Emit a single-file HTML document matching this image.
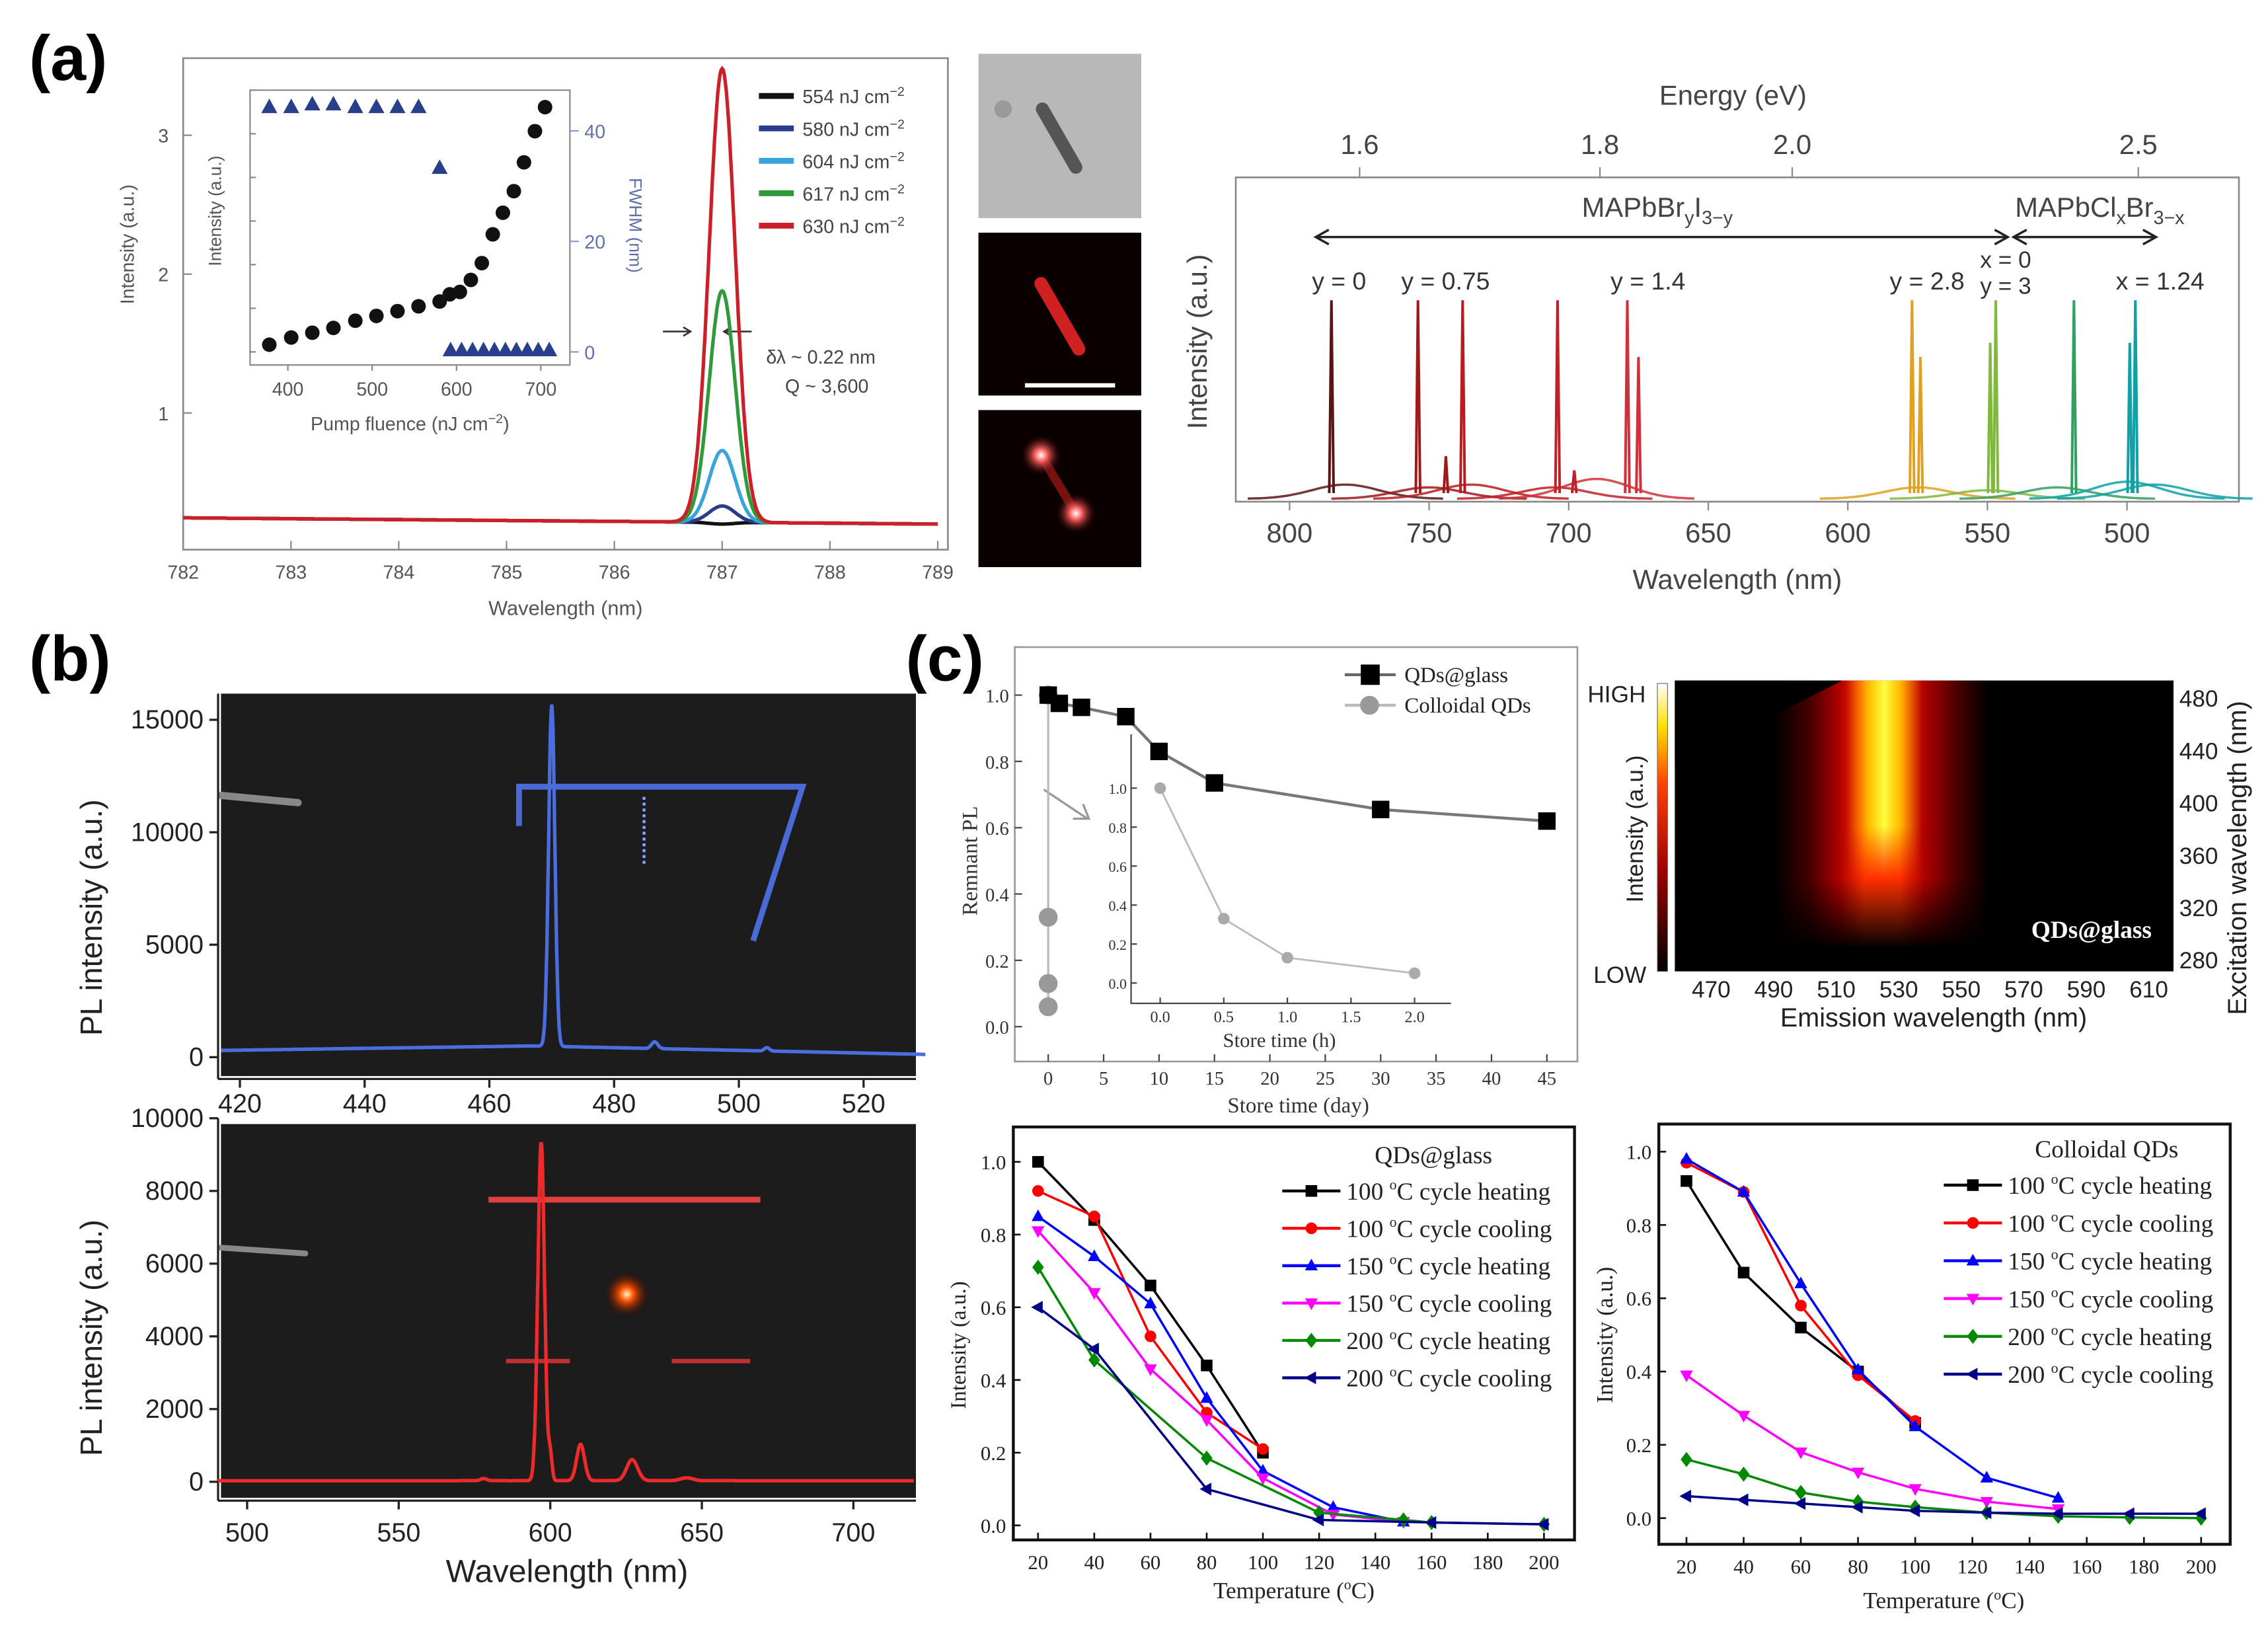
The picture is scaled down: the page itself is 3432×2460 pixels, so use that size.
<!DOCTYPE html>
<html><head><meta charset="utf-8"><style>
html,body{margin:0;padding:0;background:#fff}
svg{display:block}
text{font-family:"Liberation Sans",sans-serif}
.serif{font-family:"Liberation Serif",serif}
</style></head><body>
<svg id="fig" xmlns="http://www.w3.org/2000/svg" width="3432" height="2460" viewBox="0 0 1560 1118.18">
<defs>
<linearGradient id="hmRed" x1="0" x2="1" y1="0" y2="0">
<stop offset="0" stop-color="#000"/><stop offset="0.2" stop-color="#000"/><stop offset="0.27" stop-color="#400"/><stop offset="0.33" stop-color="#b00000"/><stop offset="0.38" stop-color="#ff3000"/><stop offset="0.45" stop-color="#ff3000"/><stop offset="0.5" stop-color="#b00000"/><stop offset="0.57" stop-color="#400"/><stop offset="0.63" stop-color="#000"/><stop offset="1" stop-color="#000"/>
</linearGradient>
<linearGradient id="hmYel" x1="0" x2="1" y1="0" y2="0">
<stop offset="0" stop-color="#ffa000" stop-opacity="0"/><stop offset="0.3" stop-color="#ffd000" stop-opacity="0.9"/><stop offset="0.5" stop-color="#ffff40"/><stop offset="0.7" stop-color="#ffd000" stop-opacity="0.9"/><stop offset="1" stop-color="#ffa000" stop-opacity="0"/>
</linearGradient>
<linearGradient id="fadeRed" x1="0" x2="0" y1="0" y2="1">
<stop offset="0" stop-color="#fff"/><stop offset="0.68" stop-color="#fff"/><stop offset="0.92" stop-color="#000"/>
</linearGradient>
<linearGradient id="fadeYel" x1="0" x2="0" y1="0" y2="1">
<stop offset="0" stop-color="#fff"/><stop offset="0.5" stop-color="#fff"/><stop offset="0.68" stop-color="#000"/>
</linearGradient>
<mask id="mRed" maskContentUnits="userSpaceOnUse"><rect x="1152" y="468" width="343" height="200" fill="url(#fadeRed)"/></mask>
<mask id="mYel" maskContentUnits="userSpaceOnUse"><rect x="1152" y="468" width="343" height="200" fill="url(#fadeYel)"/></mask>
<linearGradient id="cbar" x1="0" x2="0" y1="1" y2="0">
<stop offset="0" stop-color="#000"/><stop offset="0.35" stop-color="#a00000"/><stop offset="0.65" stop-color="#ff4000"/><stop offset="0.85" stop-color="#ffe000"/><stop offset="1" stop-color="#fff"/>
</linearGradient>
<radialGradient id="spot" cx="0.5" cy="0.5" r="0.5"><stop offset="0" stop-color="#fff"/><stop offset="0.3" stop-color="#ff6060"/><stop offset="1" stop-color="#300" stop-opacity="0"/></radialGradient>
<radialGradient id="spot2" cx="0.5" cy="0.5" r="0.5"><stop offset="0" stop-color="#fff8c0"/><stop offset="0.3" stop-color="#ff5000"/><stop offset="1" stop-color="#300" stop-opacity="0"/></radialGradient>
</defs>

<text x="20" y="55" font-size="44" font-weight="bold">(a)</text>
<text x="20" y="468" font-size="44" font-weight="bold">(b)</text>
<text x="623" y="468" font-size="44" font-weight="bold">(c)</text>

<g id="aL">
<rect x="126" y="40" width="526" height="338" fill="none" stroke="#888" stroke-width="1.2"/>
<text x="92" y="168" font-size="13" fill="#555" transform="rotate(-90 92 168)" text-anchor="middle">Intensity (a.u.)</text>
<text x="389" y="423" font-size="14" fill="#555" text-anchor="middle">Wavelength (nm)</text>
<rect x="172" y="62" width="220" height="189" fill="#fff" stroke="#888" stroke-width="1"/>
<text x="152" y="145" font-size="12" fill="#555" transform="rotate(-90 152 145)" text-anchor="middle">Intensity (a.u.)</text>
<text x="433" y="155" font-size="12" fill="#6070a8" transform="rotate(90 433 155)" text-anchor="middle">FWHM (nm)</text>
<text x="282" y="296" font-size="13" fill="#555" text-anchor="middle">Pump fluence (nJ cm<tspan dy="-5" font-size="9">−2</tspan><tspan dy="5">)</tspan></text>
<text x="527" y="250" font-size="13" fill="#444">δλ ~ 0.22 nm</text>
<text x="540" y="270" font-size="13" fill="#444">Q ~ 3,600</text>
<path d="M456 228 L474 228 M470 225 L475 228 L470 231 M517 228 L499 228 M503 225 L498 228 L503 231" stroke="#333" stroke-width="1.2" fill="none"/>
</g>

<g>
<rect x="673" y="37" width="112" height="113" fill="#b8b8b8"/>
<circle cx="690" cy="75" r="6" fill="#9a9a9a"/>
<line x1="717" y1="75" x2="740" y2="115" stroke="#555" stroke-width="9" stroke-linecap="round"/>
<rect x="673" y="160" width="112" height="112" fill="#0a0000"/>
<line x1="716" y1="195" x2="742" y2="240" stroke="#d02020" stroke-width="9" stroke-linecap="round"/>
<line x1="705" y1="265" x2="767" y2="265" stroke="#fff" stroke-width="3"/>
<rect x="673" y="282" width="112" height="108" fill="#0a0000"/>
<line x1="716" y1="313" x2="740" y2="353" stroke="#7a1010" stroke-width="6"/>
<circle cx="716" cy="313" r="14" fill="url(#spot)"/>
<circle cx="740" cy="353" r="14" fill="url(#spot)"/>
</g>

<g>
<rect x="850" y="122" width="690" height="223" fill="none" stroke="#888" stroke-width="1.2"/>
<text x="1192" y="72" font-size="19" fill="#444" text-anchor="middle">Energy (eV)</text>
<text x="1195" y="405" font-size="19" fill="#444" text-anchor="middle">Wavelength (nm)</text>
<text x="830" y="235" font-size="19" fill="#444" transform="rotate(-90 830 235)" text-anchor="middle">Intensity (a.u.)</text>
<text x="1088" y="149" font-size="19" fill="#444">MAPbBr<tspan dy="5" font-size="13">y</tspan><tspan dy="-5">I</tspan><tspan dy="5" font-size="13">3−y</tspan></text>
<text x="1386" y="149" font-size="19" fill="#444">MAPbCl<tspan dy="5" font-size="13">x</tspan><tspan dy="-5">Br</tspan><tspan dy="5" font-size="13">3−x</tspan></text>
<path d="M906 163 L1380 163 M914 158 L905 163 L914 168 M1372 158 L1381 163 L1372 168 M1386 163 L1482 163 M1394 158 L1385 163 L1394 168 M1474 158 L1483 163 L1474 168" stroke="#222" stroke-width="1.6" fill="none"/>
</g>

<g>
<rect x="152" y="477" width="478" height="263" fill="#1c1c1c"/>
<line x1="152" y1="547" x2="205" y2="552" stroke="#888" stroke-width="5" stroke-linecap="round"/>
<path d="M357 568 L357 541 L552 541 L518 647" stroke="#4a6ad8" stroke-width="4" fill="none"/>
<line x1="443" y1="548" x2="443" y2="596" stroke="#80a8ff" stroke-width="2" stroke-dasharray="2 2"/>
<text x="48" y="609" font-size="21" fill="#222" transform="rotate(-90 70 609)" text-anchor="middle">PL intensity (a.u.)</text>
<line x1="150" y1="477" x2="150" y2="742" stroke="#222" stroke-width="1.5"/>
<line x1="150" y1="742" x2="630" y2="742" stroke="#222" stroke-width="1.5"/>
</g>
<g>
<rect x="152" y="773" width="478" height="257" fill="#1c1c1c"/>
<line x1="152" y1="858" x2="210" y2="862" stroke="#888" stroke-width="4" stroke-linecap="round"/>
<path d="M336 825 L523 825" stroke="#e04040" stroke-width="4" fill="none"/>
<path d="M348 936 L392 936 M462 936 L516 936" stroke="#c03030" stroke-width="3"/>
<circle cx="431" cy="890" r="16" fill="url(#spot2)"/>
<text x="48" y="898" font-size="21" fill="#222" transform="rotate(-90 70 898)" text-anchor="middle">PL intensity (a.u.)</text>
<text x="390" y="1088" font-size="22" fill="#222" text-anchor="middle">Wavelength (nm)</text>
<line x1="150" y1="769" x2="150" y2="1032" stroke="#222" stroke-width="1.5"/>
<line x1="150" y1="1032" x2="630" y2="1032" stroke="#222" stroke-width="1.5"/>
</g>

<g class="serif">
<rect x="698" y="445" width="387" height="285" fill="none" stroke="#999" stroke-width="1.2"/>
<text x="672" y="592" class="serif" font-size="15" fill="#333" transform="rotate(-90 672 592)" text-anchor="middle">Remnant PL</text>
<text x="893" y="765" class="serif" font-size="15" fill="#333" text-anchor="middle">Store time (day)</text>
<text x="880" y="720" class="serif" font-size="14" fill="#333" text-anchor="middle">Store time (h)</text>
<path d="M718 543 L748 563 M738 563 L749 563 L745 553" stroke="#999" stroke-width="1.5" fill="none"/>
<line x1="925" y1="464" x2="960" y2="464" stroke="#666" stroke-width="2"/>
<rect x="936" y="457" width="13" height="14" fill="#000"/>
<text x="966" y="469" class="serif" font-size="15" fill="#222">QDs@glass</text>
<line x1="925" y1="485" x2="960" y2="485" stroke="#bbb" stroke-width="2"/>
<circle cx="942" cy="485" r="6.5" fill="#999"/>
<text x="966" y="490" class="serif" font-size="15" fill="#222">Colloidal QDs</text>
</g>

<g>
<rect x="1152" y="468" width="343" height="200" fill="#000"/>
<rect x="1152" y="468" width="343" height="200" fill="url(#hmRed)" mask="url(#mRed)"/>
<rect x="1270" y="468" width="52" height="200" fill="url(#hmYel)" mask="url(#mYel)"/>
<polygon points="1152,468 1267,468 1152,527" fill="#000"/>
<rect x="1140" y="470" width="7" height="198" fill="url(#cbar)" stroke="#666" stroke-width="0.5"/>
<text x="1092" y="483" font-size="16" fill="#222">HIGH</text>
<text x="1096" y="676" font-size="16" fill="#222">LOW</text>
<text x="1130" y="570" font-size="16" fill="#222" transform="rotate(-90 1130 570)" text-anchor="middle">Intensity (a.u.)</text>
<text x="1480" y="645" class="serif" font-size="17" font-weight="bold" fill="#fff" text-anchor="end">QDs@glass</text>
<text x="1330" y="706" font-size="18" fill="#222" text-anchor="middle">Emission wavelength (nm)</text>
<text x="1545" y="590" font-size="18" fill="#222" transform="rotate(-90 1545 590)" text-anchor="middle">Excitation wavelength (nm)</text>
</g>

<g class="serif">
<rect x="697" y="775" width="386" height="284" fill="none" stroke="#111" stroke-width="2"/>
<text x="664" y="925" class="serif" font-size="15" fill="#222" transform="rotate(-90 664 925)" text-anchor="middle">Intensity (a.u.)</text>
<text x="890" y="1099" class="serif" font-size="16" fill="#222" text-anchor="middle">Temperature (<tspan dy="-6" font-size="10">o</tspan><tspan dy="6">C)</tspan></text>
<text x="986" y="800" class="serif" font-size="17" fill="#222" text-anchor="middle">QDs@glass</text>
</g>
<g class="serif">
<rect x="1141" y="773" width="393" height="289" fill="none" stroke="#111" stroke-width="2"/>
<text x="1109" y="918" class="serif" font-size="16" fill="#222" transform="rotate(-90 1109 918)" text-anchor="middle">Intensity (a.u.)</text>
<text x="1337" y="1106" class="serif" font-size="16" fill="#222" text-anchor="middle">Temperature (<tspan dy="-6" font-size="10">o</tspan><tspan dy="6">C)</tspan></text>
<text x="1449" y="796" class="serif" font-size="17" fill="#222" text-anchor="middle">Colloidal QDs</text>
</g>
</svg>

<script>
// ---------- data ----------
const aFluences = [554, 580, 604, 617, 630];
const aPeakHeights = [0.2, 0.33, 0.73, 1.88, 3.48];
const aPeakCenter = 787.0;
const aBaseStart = 0.245, aBaseEnd = 0.2;
const aXTicks = [782, 783, 784, 785, 786, 787, 788, 789];
const aYTicks = [1, 2, 3];
const insetPump = [378, 404, 429, 454, 480, 505, 530, 555, 580, 592, 604, 617, 630, 643, 655, 668, 680, 693, 705];
const insetIntensity = [0.03, 0.06, 0.08, 0.1, 0.13, 0.15, 0.17, 0.19, 0.21, 0.24, 0.25, 0.3, 0.37, 0.49, 0.58, 0.67, 0.79, 0.92, 1.02];
const fwhmPump = [378, 404, 429, 454, 480, 505, 530, 555, 580, 593, 606, 619, 632, 645, 658, 671, 684, 697, 710];
const fwhmValues = [44, 44, 44.5, 44.5, 44, 44, 44, 44, 33, 0, 0, 0, 0, 0, 0, 0, 0, 0, 0];
const insetXTicks = [400, 500, 600, 700];
const insetFwhmTicks = [0, 20, 40];
const rPeakWl = [785, 754, 744, 738, 704, 698, 679, 675, 577, 574, 547, 549, 519, 497, 499];
const rPeakH = [0.7, 0.7, 0.15, 0.7, 0.7, 0.1, 0.7, 0.5, 0.7, 0.5, 0.7, 0.55, 0.7, 0.7, 0.55];
const rPeakColor = ['#5a1414', '#a01818', '#a01818', '#b81c20', '#c02028', '#c02028', '#d0303a', '#d0303a', '#e0a020', '#e0a020', '#80b840', '#80b840', '#30a060', '#10a0a8', '#10a0a8'];
const rHumpWl = [780, 750, 735, 705, 690, 575, 550, 525, 500, 490];
const rHumpH = [0.05, 0.04, 0.05, 0.04, 0.07, 0.04, 0.03, 0.04, 0.06, 0.05];
const rHumpColor = ['#5a1414', '#a01818', '#b81c20', '#c02028', '#d0303a', '#e0a020', '#80b840', '#30a060', '#10a0a8', '#10a0a8'];
const rPeakLabels = ['y = 0', 'y = 0.75', 'y = 1.4', 'y = 2.8', 'x = 1.24'];
const rPeakLabelWl = [792, 760, 685, 585, 504];
const rXTicks = [800, 750, 700, 650, 600, 550, 500];
const rETicks = [1.6, 1.8, 2.0, 2.5];
const bBluePeaks = [[470, 15200, 0.5], [486.5, 300, 0.5], [504.5, 150, 0.4]];
const bBlueBase = [300, 500, 150];
const bBlueX = [420, 440, 460, 480, 500, 520];
const bBlueY = [0, 5000, 10000, 15000];
const bRedPeaks = [[597, 9300, 1.1], [600, 700, 0.6], [610, 1000, 1.3], [627, 580, 1.8], [578, 60, 1], [645, 80, 2]];
const bRedX = [500, 550, 600, 650, 700];
const bRedY = [0, 2000, 4000, 6000, 8000, 10000];
const storeDays = [0, 1, 3, 7, 10, 15, 30, 45];
const storeGlass = [1.0, 0.975, 0.963, 0.935, 0.83, 0.735, 0.655, 0.62];
const colloidalDays = [0, 0, 0, 0];
const colloidalPL = [1.0, 0.33, 0.13, 0.06];
const insetHours = [0, 0.5, 1, 2];
const insetPL = [1.0, 0.33, 0.13, 0.05];
const storeXTicks = [0, 5, 10, 15, 20, 25, 30, 35, 40, 45];
const storeYTicks = [0.0, 0.2, 0.4, 0.6, 0.8, 1.0];
const insetHTicks = [0.0, 0.5, 1.0, 1.5, 2.0];
const insetPLTicks = [0.0, 0.2, 0.4, 0.6, 0.8, 1.0];
const hmXTicks = [470, 490, 510, 530, 550, 570, 590, 610];
const hmYTicks = [280, 320, 360, 400, 440, 480];
const seriesNames = ['100 °C cycle heating', '100 °C cycle cooling', '150 °C cycle heating', '150 °C cycle cooling', '200 °C cycle heating', '200 °C cycle cooling'];
const seriesColors = ['#000', '#f00', '#00f', '#f0f', '#080', '#008'];
const seriesMarkers = ['square', 'circle', 'up', 'down', 'diamond', 'left'];
const glassT = [[20, 40, 60, 80, 100], [20, 40, 60, 80, 100], [20, 40, 60, 80, 100, 125, 150], [20, 40, 60, 80, 100, 125, 150], [20, 40, 80, 120, 150, 160, 200], [20, 40, 80, 120, 160, 200]];
const glassV = [[1.0, 0.84, 0.66, 0.44, 0.2], [0.92, 0.85, 0.52, 0.31, 0.21], [0.85, 0.74, 0.61, 0.35, 0.15, 0.05, 0.01], [0.81, 0.64, 0.43, 0.29, 0.13, 0.03, 0.01], [0.71, 0.455, 0.185, 0.035, 0.015, 0.008, 0.003], [0.6, 0.485, 0.1, 0.015, 0.008, 0.003]];
const collT = [[20, 40, 60, 80, 100], [20, 40, 60, 80, 100], [20, 40, 60, 80, 100, 125, 150], [20, 40, 60, 80, 100, 125, 150], [20, 40, 60, 80, 100, 125, 150, 175, 200], [20, 40, 60, 80, 100, 125, 150, 175, 200]];
const collV = [[0.92, 0.67, 0.52, 0.4, 0.26], [0.97, 0.89, 0.58, 0.39, 0.265], [0.98, 0.89, 0.64, 0.405, 0.25, 0.11, 0.055], [0.39, 0.28, 0.18, 0.125, 0.08, 0.045, 0.025], [0.16, 0.12, 0.07, 0.045, 0.03, 0.015, 0.005, 0.002, 0.0], [0.06, 0.05, 0.04, 0.03, 0.02, 0.015, 0.012, 0.012, 0.012]];
const tTicks = [20, 40, 60, 80, 100, 120, 140, 160, 180, 200];
const iTicks = [0.0, 0.2, 0.4, 0.6, 0.8, 1.0];

// ---------- helpers ----------
const NS = 'http://www.w3.org/2000/svg';
const svg = document.getElementById('fig');
function mk(tag, attrs, parent) { const e = document.createElementNS(NS, tag); for (const k in attrs) e.setAttribute(k, attrs[k]); (parent || svg).appendChild(e); return e; }
function lin(d0, d1, r0, r1) { return v => r0 + (v - d0) * (r1 - r0) / (d1 - d0); }
function gauss(x, c, h, s) { return h * Math.exp(-0.5 * ((x - c) / s) * ((x - c) / s)); }
function label(x, y, s, size, anchor, fill, cls) {
  const e = mk('text', { x: x, y: y, 'font-size': size, 'text-anchor': anchor, fill: fill || '#333' });
  if (cls) e.setAttribute('class', cls);
  e.textContent = s;
  return e;
}
function tick(x1, y1, x2, y2, col, w) {
  return mk('line', { x1: x1, y1: y1, x2: x2, y2: y2, stroke: col || '#444', 'stroke-width': w || 1 });
}
function marker(type, x, y, r, col) {
  let e;
  if (type === 'square') e = mk('rect', { x: x - r, y: y - r, width: 2 * r, height: 2 * r, fill: col });
  else if (type === 'circle') e = mk('circle', { cx: x, cy: y, r: r, fill: col });
  else {
    let p;
    if (type === 'up') p = [[x, y - r * 1.2], [x + r * 1.1, y + r * 0.8], [x - r * 1.1, y + r * 0.8]];
    else if (type === 'down') p = [[x, y + r * 1.2], [x + r * 1.1, y - r * 0.8], [x - r * 1.1, y - r * 0.8]];
    else if (type === 'diamond') p = [[x, y - r * 1.3], [x + r, y], [x, y + r * 1.3], [x - r, y]];
    else p = [[x - r * 1.2, y], [x + r * 0.8, y - r * 1.1], [x + r * 0.8, y + r * 1.1]];
    e = mk('polygon', { points: p.map(q => q.join(',')).join(' '), fill: col });
  }
  return e;
}

// ---------- (a) left ----------
const sxA = lin(782, 789, 126, 645), syA = lin(1, 3, 284, 93);
aXTicks.forEach(v => {
  const t = tick(sxA(v), 378, sxA(v), 372, '#888');
  
  const l = label(sxA(v), 398, String(v), 13, 'middle', '#555');
  
});
aYTicks.forEach(v => {
  const t = tick(126, syA(v), 132, syA(v), '#888');
  
  const l = label(116, syA(v) + 5, String(v), 13, 'end', '#555');
  
});
const aColors = ['#111', '#2c3c8c', '#38a4dc', '#2e9a3a', '#cc1f2a'];
aFluences.forEach((f, i) => {
  let d = '';
  for (let w = 782; w <= 789.001; w += 0.01) {
    const base = aBaseStart + (aBaseEnd - aBaseStart) * (w - 782) / 7;
    const v = base + gauss(w, aPeakCenter, aPeakHeights[i] - base, 0.12);
    d += (d ? 'L' : 'M') + sxA(w).toFixed(1) + ' ' + syA(v).toFixed(1);
  }
  const p = mk('path', { d: d, fill: 'none', stroke: aColors[i], 'stroke-width': 2.4 });
  
  
  const ly = 66 + i * 22.3;
  const ll = tick(522, ly, 546, ly, aColors[i], 4);
  
  const lt = mk('text', { x: 552, y: ly + 5, 'font-size': 13, fill: '#444' });
  
  lt.innerHTML = f + ' nJ cm<tspan dy="-5" font-size="9">−2</tspan>';
});
const sxI = lin(400, 700, 198, 372), syI = lin(0, 1, 242, 77), syF = lin(0, 40, 242, 90);
insetXTicks.forEach(v => {
  const t = tick(sxI(v), 251, sxI(v), 255, '#888');
  
  const l = label(sxI(v), 272, String(v), 13, 'middle', '#555');
  
});
insetFwhmTicks.forEach(v => {
  const t = tick(392, syF(v), 398, syF(v), '#8898c8');
  
  const l = label(402, syF(v) + 5, String(v), 13, 'start', '#6070a8');
  
});
for (let k = 0; k < 7; k++) {
  const t = tick(172, 242 - k * 30, 176, 242 - k * 30, '#888');
  
}
fwhmPump.forEach((p, i) => {
  const m = marker('up', sxI(p), syF(fwhmValues[i]) - 1, 5, '#2a3f8c');
  
  
});
insetPump.forEach((p, i) => {
  const m = marker('circle', sxI(p), syI(insetIntensity[i]), 5, '#111');
  
  
});

// ---------- (a) right ----------
const sxR = lin(800, 500, 887, 1463), syR = lin(0, 1, 343, 148);
rXTicks.forEach(v => {
  const t = tick(sxR(v), 345, sxR(v), 351, '#888');
  
  const l = label(sxR(v), 373, String(v), 19, 'middle', '#444');
  
});
rETicks.forEach(e => {
  const x = sxR(1239.84 / e);
  const t = tick(x, 122, x, 115, '#888');
  
  const l = label(x, 106, e.toFixed(1), 19, 'middle', '#444');
  
});
rHumpWl.forEach((w, i) => {
  let d = '';
  for (let x = w - 35; x <= w + 35; x += 1) d += (d ? 'L' : 'M') + sxR(x).toFixed(1) + ' ' + syR(gauss(x, w, rHumpH[i], 12)).toFixed(1);
  const p = mk('path', { d: d, fill: 'none', stroke: rHumpColor[i], 'stroke-width': 1.6, opacity: 0.85 });
  
  
});
rPeakWl.forEach((w, i) => {
  const x = sxR(w);
  const p = mk('path', { d: 'M' + (x - 1.5) + ' ' + syR(0.02) + ' L' + x + ' ' + syR(rPeakH[i]) + ' L' + (x + 1.5) + ' ' + syR(0.02), fill: 'none', stroke: rPeakColor[i], 'stroke-width': 1.8 });
  
  
});
rPeakLabels.forEach((s, i) => {
  const l = label(sxR(rPeakLabelWl[i]), 199, s, 17, 'start', '#333');
  
});
const lx0 = label(1362, 184, 'x = 0', 16, 'start', '#333');

const ly3 = label(1362, 202, 'y = 3', 16, 'start', '#333');


// ---------- (b) ----------
const sxB1 = lin(420, 520, 165, 594), syB1 = lin(0, 15000, 727, 495);
let db = '';
for (let w = 417; w <= 530; w += 0.1) {
  let v = bBlueBase[0] + (bBlueBase[1] - bBlueBase[0]) * Math.min(1, (w - 417) / 50) - (w > 467 ? (w - 467) * 6 : 0);
  bBluePeaks.forEach(p => { v += gauss(w, p[0], p[1], p[2]); });
  db += (db ? 'L' : 'M') + sxB1(w).toFixed(1) + ' ' + syB1(Math.max(v, 60)).toFixed(1);
}
const pb = mk('path', { d: db, fill: 'none', stroke: '#4a6ee0', 'stroke-width': 2.4 });


bBlueX.forEach(v => {
  const t = tick(sxB1(v), 742, sxB1(v), 748, '#222', 1.5);
  
  const l = label(sxB1(v), 765, String(v), 18, 'middle', '#222');
  
});
bBlueY.forEach(v => {
  const t = tick(144, syB1(v), 150, syB1(v), '#222', 1.5);
  
  const l = label(140, syB1(v) + 6, String(v), 18, 'end', '#222');
  
});
const sxB2 = lin(500, 700, 170, 587), syB2 = lin(0, 10000, 1019, 769);
let dr = '';
for (let w = 490; w <= 720; w += 0.1) {
  let v = 30;
  bRedPeaks.forEach(p => { v += gauss(w, p[0], p[1], p[2]); });
  dr += (dr ? 'L' : 'M') + sxB2(w).toFixed(1) + ' ' + syB2(v).toFixed(1);
}
const pr = mk('path', { d: dr, fill: 'none', stroke: '#ee2a2a', 'stroke-width': 2.4 });


bRedX.forEach(v => {
  const t = tick(sxB2(v), 1032, sxB2(v), 1038, '#222', 1.5);
  
  const l = label(sxB2(v), 1060, String(v), 18, 'middle', '#222');
  
});
bRedY.forEach(v => {
  const t = tick(144, syB2(v), 150, syB2(v), '#222', 1.5);
  
  const l = label(140, syB2(v) + 6, String(v), 18, 'end', '#222');
  
});

// ---------- (c) storage ----------
const sxS = lin(0, 45, 721, 1064), syS = lin(0, 1, 706, 478);
storeXTicks.forEach(v => {
  const t = tick(sxS(v), 730, sxS(v), 725, '#444');
  
  const l = label(sxS(v), 746, String(v), 13, 'middle', '#333', 'serif');
  
});
storeYTicks.forEach(v => {
  const t = tick(698, syS(v), 703, syS(v), '#444');
  
  const l = label(694, syS(v) + 5, v.toFixed(1), 13, 'end', '#333', 'serif');
  
});
const pc = mk('polyline', { points: colloidalDays.map((d, i) => sxS(d) + ',' + syS(colloidalPL[i])).join(' '), fill: 'none', stroke: '#bbb', 'stroke-width': 1.5 });


const pg = mk('polyline', { points: storeDays.map((d, i) => sxS(d) + ',' + syS(storeGlass[i])).join(' '), fill: 'none', stroke: '#777', 'stroke-width': 2 });


colloidalDays.forEach((d, i) => {
  const m = marker('circle', sxS(d), syS(colloidalPL[i]), 6.5, '#999');
  
  
});
storeDays.forEach((d, i) => {
  const m = marker('square', sxS(d), syS(storeGlass[i]), 6, '#000');
  
  
});
const sxH = lin(0, 2, 798, 973), syH = lin(0, 1, 676, 542);
const iax = mk('path', { d: 'M778 505 L778 690 L998 690', fill: 'none', stroke: '#444', 'stroke-width': 1 });

insetHTicks.forEach(v => {
  const t = tick(sxH(v), 690, sxH(v), 686, '#444');
  
  const l = label(sxH(v), 703, v.toFixed(1), 11, 'middle', '#333', 'serif');
  
});
insetPLTicks.forEach(v => {
  const t = tick(778, syH(v), 782, syH(v), '#444');
  
  const l = label(775, syH(v) + 4, v.toFixed(1), 10, 'end', '#333', 'serif');
  
});
const pih = mk('polyline', { points: insetHours.map((h, i) => sxH(h) + ',' + syH(insetPL[i])).join(' '), fill: 'none', stroke: '#bbb', 'stroke-width': 1.3 });


insetHours.forEach((h, i) => {
  const m = marker('circle', sxH(h), syH(insetPL[i]), 4, '#aaa');
  
  
});

const sxM = lin(470, 610, 1177, 1478), syM = lin(280, 480, 660, 480);
hmXTicks.forEach(v => {
  const l = label(sxM(v), 686, String(v), 16, 'middle', '#222');
  
});
hmYTicks.forEach(v => {
  const l = label(1499, syM(v) + 6, String(v), 16, 'start', '#222');
  
});

function thermal(sx, sy, x0, yb, ts, vs, legX, legY0, legDy, prefix) {
  tTicks.forEach(v => {
    const t = tick(sx(v), yb, sx(v), yb - 5, '#111', 1.2);
    
    const l = label(sx(v), yb + 20, String(v), 14, 'middle', '#222', 'serif');
    
  });
  iTicks.forEach(v => {
    const t = tick(x0, sy(v), x0 + 5, sy(v), '#111', 1.2);
    
    const l = label(x0 - 5, sy(v) + 5, v.toFixed(1), 14, 'end', '#222', 'serif');
    
  });
  ts.forEach((arr, s) => {
    const pl = mk('polyline', { points: arr.map((t, i) => sx(t) + ',' + sy(vs[s][i])).join(' '), fill: 'none', stroke: seriesColors[s], 'stroke-width': 1.6 });
    
    
    arr.forEach((t, i) => {
      const m = marker(seriesMarkers[s], sx(t), sy(vs[s][i]), 4, seriesColors[s]);
      
      
    });
    const ly = legY0 + s * legDy;
    const ll = tick(legX, ly, legX + 40, ly, seriesColors[s], 2);
    
    const lm = marker(seriesMarkers[s], legX + 20, ly, 4, seriesColors[s]);
    
    const parts = seriesNames[s].split(' °C');
    const lt = mk('text', { x: legX + 44, y: ly + 6, 'font-size': 17, fill: '#222', class: 'serif' });
    
    lt.innerHTML = parts[0] + ' <tspan dy="-7" font-size="10">o</tspan><tspan dy="7">C' + parts[1] + '</tspan>';
  });
}
thermal(lin(20, 200, 714, 1062), lin(0, 1, 1049, 799), 697, 1059, glassT, glassV, 882, 819, 25.7, 'glass');
thermal(lin(20, 200, 1160, 1514), lin(0, 1, 1044, 792), 1141, 1062, collT, collV, 1337, 815, 26, 'colloidal');
</script>
</body></html>
